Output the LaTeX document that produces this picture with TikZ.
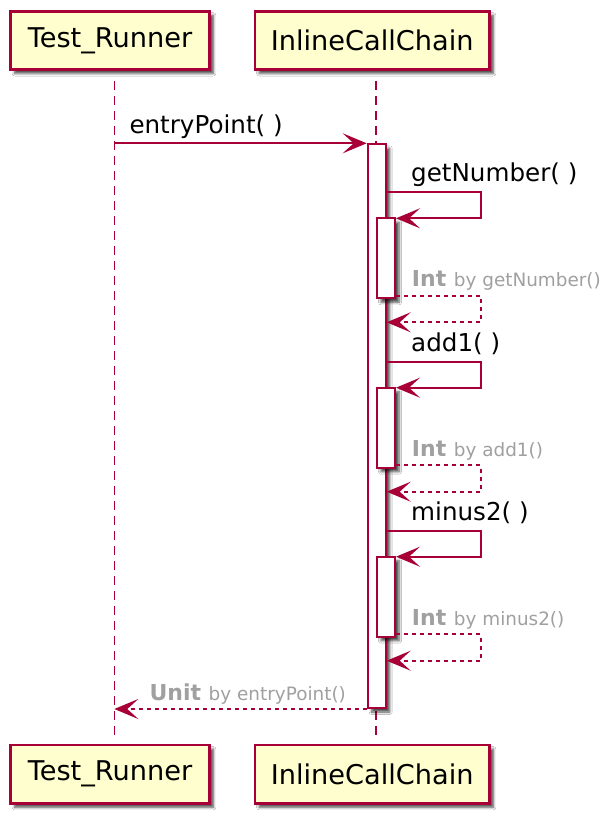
\documentclass[tikz,border=0pt]{standalone}
\usepackage{fontspec}
\setmainfont{DejaVu Sans}
\usetikzlibrary{arrows.meta,shadows.blur}
\definecolor{puRed}{HTML}{A80036}
\definecolor{puFill}{HTML}{FEFECE}
\definecolor{puGrey}{HTML}{A0A0A0}
\begin{document}
\begin{tikzpicture}[x=1pt,y=-1pt,
  shadowed/.style={blur shadow={shadow xshift=4pt,shadow yshift=-4pt,shadow blur radius=2.5pt,shadow blur steps=5,shadow opacity=70}},
  participant/.style={draw=puRed,line width=2.7pt,fill=puFill,minimum height=58.3pt,inner sep=0pt,font=\fontsize{27.2}{32}\selectfont,shadowed},
  actbox/.style={draw=puRed,line width=2pt,fill=white,minimum width=18pt,inner sep=0pt,shadowed},
  lifeline/.style={draw=puRed,line width=1.6pt,dash pattern=on 8.5pt off 6.5pt},
  msg/.style={draw=puRed,line width=2pt,-{Stealth[length=24pt,width=20pt,inset=11pt]}},
  ret/.style={msg,dash pattern=on 4pt off 4pt},
  msgtext/.style={anchor=base west,inner sep=0pt,font=\fontsize{24.6}{28}\selectfont},
  rettext/.style={anchor=base west,inner sep=0pt,text=puGrey,font=\fontsize{18.4}{22}\selectfont}
]
\fill[white] (0,0) rectangle (614,830);
\useasboundingbox (0,0) rectangle (614,830);

% participants
\node[participant,minimum width=198.7pt] (trTop) at (110,40.35) {Test\_Runner};
\node[participant,minimum width=234.3pt] (icTop) at (372.2,40.35) {InlineCallChain};
\node[participant,minimum width=198.7pt] (trBot) at (110,774.15) {Test\_Runner};
\node[participant,minimum width=234.3pt] (icBot) at (372.2,774.15) {InlineCallChain};

% lifelines
\draw[lifeline] ([xshift=4.3pt,yshift=-10.3pt]trTop.south) -- ([xshift=4.3pt,yshift=4pt]trBot.north);
\draw[lifeline] ([xshift=3.8pt,yshift=-10.3pt]icTop.south) -- ([xshift=3.8pt,yshift=4pt]icBot.north);

% activations
\node[actbox,minimum height=563.7pt] (act) at (376.7,426.15) {};
\node[actbox,minimum height=80pt] (in1) at (386,258.3) {};
\node[actbox,minimum height=80pt] (in2) at (386,427.7) {};
\node[actbox,minimum height=80pt] (in3) at (386,596.7) {};

% entry
\coordinate (eStart) at (114.3,143.3);
\draw[msg] (eStart) -- (eStart -| act.west);
\node[msgtext] (lEntry) at (129.3,133.3) {entryPoint( )};

% getNumber
\coordinate (c1a) at (480.7,192.3);
\coordinate (c1b) at (480.7,218.3);
\draw[msg] (act.east |- c1a) -- (c1a) -- (c1b) -- (c1b -| in1.east);
\node[msgtext] (l1) at (411,181.8) {getNumber( )};
\coordinate (r1a) at (480.7,295.8);
\coordinate (r1b) at (480.7,322.3);
\draw[ret] (in1.east |- r1a) -- (r1a) -- (r1b) -- (act.east |- r1b);
\node[rettext] (t1) at (411.7,286.5) {{\fontsize{22}{26}\selectfont\bfseries Int }by getNumber()};

% add1
\coordinate (c2a) at (480.7,361.7);
\coordinate (c2b) at (480.7,387.7);
\draw[msg] (act.east |- c2a) -- (c2a) -- (c2b) -- (c2b -| in2.east);
\node[msgtext] (l2) at (411,351.2) {add1( )};
\coordinate (r2a) at (480.7,465.2);
\coordinate (r2b) at (480.7,491.7);
\draw[ret] (in2.east |- r2a) -- (r2a) -- (r2b) -- (act.east |- r2b);
\node[rettext] (t2) at (411.7,456.2) {{\fontsize{22}{26}\selectfont\bfseries Int }by add1()};

% minus2
\coordinate (c3a) at (480.7,530.7);
\coordinate (c3b) at (480.7,556.7);
\draw[msg] (act.east |- c3a) -- (c3a) -- (c3b) -- (c3b -| in3.east);
\node[msgtext] (l3) at (411,520.2) {minus2( )};
\coordinate (r3a) at (480.7,634.2);
\coordinate (r3b) at (480.7,660.7);
\draw[ret] (in3.east |- r3a) -- (r3a) -- (r3b) -- (act.east |- r3b);
\node[rettext] (t3) at (411.7,625.2) {{\fontsize{22}{26}\selectfont\bfseries Int }by minus2()};

% unit return
\coordinate (uEnd) at (114.3,709);
\draw[ret] (uEnd -| act.west) -- (uEnd);
\node[rettext] (tU) at (149.3,700.5) {{\fontsize{22}{26}\selectfont\bfseries Unit }by entryPoint()};
\end{tikzpicture}
\end{document}
